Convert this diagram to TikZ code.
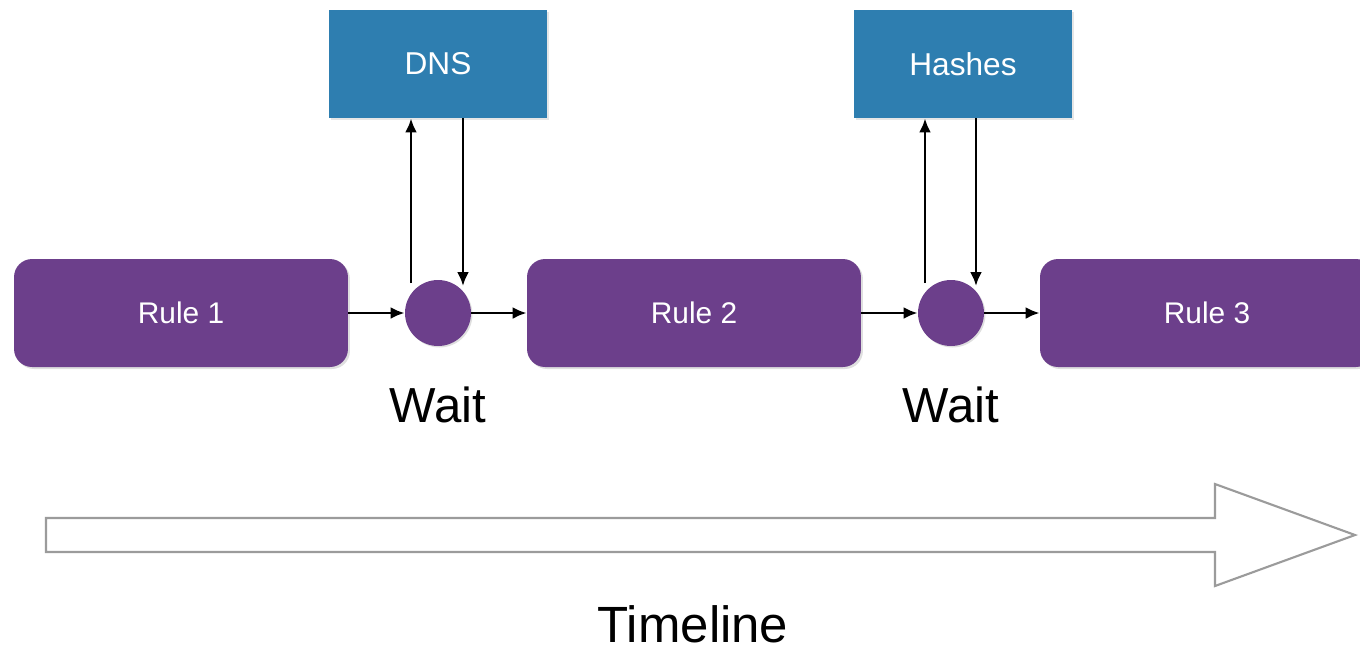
\documentclass[tikz,border=0pt]{standalone}
\usepackage{fontspec}
\setmainfont{Liberation Sans}
\usetikzlibrary{arrows.meta}
\usetikzlibrary{positioning}
\usetikzlibrary{shadows}
\definecolor{rulepurple}{RGB}{108,63,139}
\definecolor{lookupblue}{RGB}{46,126,176}
\definecolor{timegray}{RGB}{155,155,155}

\tikzset{
  rulebox/.style={fill=rulepurple, rounded corners=0.36cm, minimum width=6.68cm, minimum height=2.16cm,
    text=white, font=\fontsize{17}{20}\selectfont, drop shadow={opacity=0.25, shadow xshift=0.04cm, shadow yshift=-0.04cm}},
  waitdot/.style={circle, fill=rulepurple, minimum size=1.32cm, inner sep=0pt,
    drop shadow={opacity=0.25, shadow xshift=0.03cm, shadow yshift=-0.03cm}},
  lookup/.style={fill=lookupblue, minimum width=4.36cm, minimum height=2.16cm,
    text=white, font=\fontsize{18}{21}\selectfont, drop shadow={opacity=0.2, shadow xshift=0.04cm, shadow yshift=-0.04cm}},
  flow/.style={-{Latex[length=0.28cm, width=0.24cm]}, line width=1.6pt},
  waitlabel/.style={font=\fontsize{28}{32}\selectfont}
}

\begin{document}
\begin{tikzpicture}[x=0.02cm, y=-0.02cm]
  \useasboundingbox (0,0) rectangle (1360,654);
  \clip (0,0) rectangle (1360,654);

  % rules and waits
  \node[rulebox](rule1) at (181, 313) {Rule 1};
  \node[waitdot](wait1) at (438, 313) {};
  \node[rulebox](rule2) at (694, 313) {Rule 2};
  \node[waitdot](wait2) at (951, 313) {};
  \node[rulebox](rule3) at (1207, 313) {Rule 3};

  % lookups
  \node[lookup](dns) at (438, 64) {DNS};
  \node[lookup](hashes) at (963, 64) {Hashes};

  \node[waitlabel] at (438, 405) {Wait};
  \node[waitlabel] at (951, 405) {Wait};

  \draw[flow](rule1.east)--(wait1.west);
  \draw[flow](wait1.east)--(rule2.west);
  \draw[flow](rule2.east)--(wait2.west);
  \draw[flow](wait2.east)--(rule3.west);

  \draw[flow]([xshift=-0.54cm, yshift=0.6cm]wait1.center)--([xshift=-0.54cm]wait1.center |- dns.south);
  \draw[flow]([xshift=0.5cm]wait1.center |- dns.south)--([xshift=0.5cm, yshift=0.54cm]wait1.center);
  \draw[flow]([xshift=-0.52cm, yshift=0.6cm]wait2.center)--([xshift=-0.52cm]wait2.center |- hashes.south);
  \draw[flow]([xshift=0.5cm]wait2.center |- hashes.south)--([xshift=0.5cm, yshift=0.54cm]wait2.center);

  % timeline
  \draw[timegray, line width=1.2pt, fill=white](46, 518)--(1215, 518)--(1215, 484)--(1355, 535)--(1215, 586)--(1215, 552)--(46, 552)--cycle;
  \node[font=\fontsize{29}{33}\selectfont, inner sep=0pt](timeline) at (693, 624) {Timeline};
\end{tikzpicture}
\end{document}
